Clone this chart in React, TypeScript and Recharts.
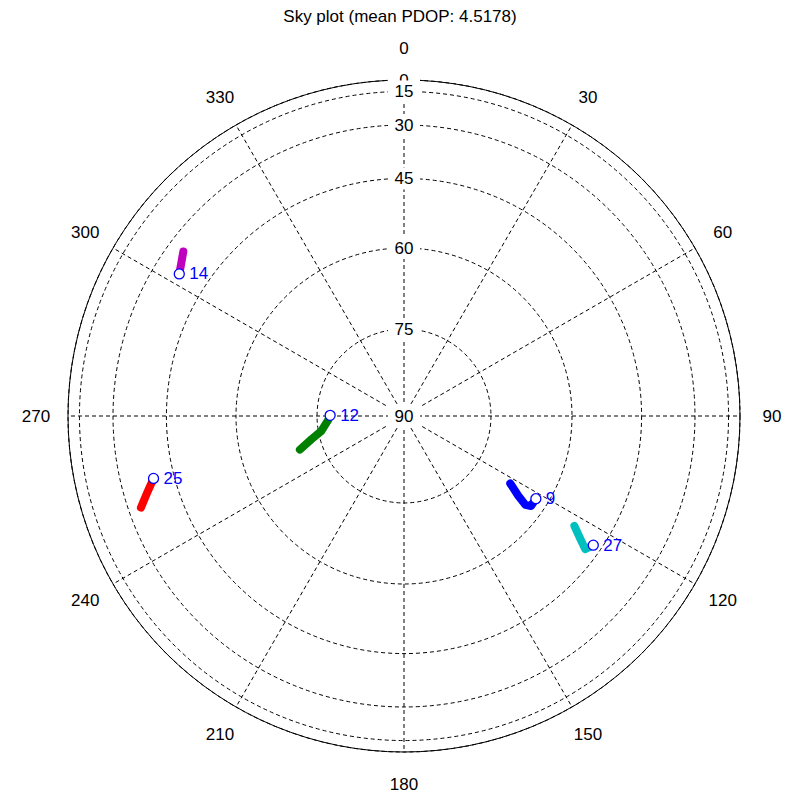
import React from 'react';
import { RadarChart, Radar, PolarGrid, PolarAngleAxis, PolarRadiusAxis } from 'recharts';

// azimuth labels round the rim, elevation rings (deg)
const AZIMUTH_TICKS = [0, 30, 60, 90, 120, 150, 180, 210, 240, 270, 300, 330];
const ELEVATION_TICKS = [0, 15, 30, 45, 60, 75, 90];

// satellite tracks, first point is the current position (blue circle)
const PRN = [14, 25, 12, 9, 27];
const COLORS = ['#bf00bf', '#ff0000', '#008000', '#0000ff', '#00bfbf'];

const AZ_14 = [302.3, 304.6, 306.7];
const EL_14 = [37.7, 36.4, 35.0];
const AZ_25 = [256.0, 253.2, 250.8];
const EL_25 = [39.8, 36.9, 34.0];
const AZ_12 = [270.5, 266.7, 259.6, 255.9, 252.1];
const EL_12 = [77.3, 76.9, 75.5, 73.5, 71.0];
const AZ_9 = [122.1, 125.3, 126.2, 124.9, 122.4];
const EL_9 = [62.4, 62.4, 63.4, 65.5, 68.0];
const AZ_27 = [124.3, 126.3, 124.9, 122.8];
const EL_27 = [47.0, 48.0, 50.2, 52.9];

const TRACKS = [
  { prn: 14, az: AZ_14, el: EL_14 },
  { prn: 25, az: AZ_25, el: EL_25 },
  { prn: 12, az: AZ_12, el: EL_12 },
  { prn: 9, az: AZ_9, el: EL_9 },
  { prn: 27, az: AZ_27, el: EL_27 },
];

const rows = TRACKS.flatMap((t) => t.az.map((az, i) => ({ prn: t.prn, az, el: t.el[i] })));

// sky plot radius is cos(elevation)
const toR = (el: number) => Math.cos((el * Math.PI) / 180);
const radiusTicks = ELEVATION_TICKS.map(toR);

const FONT = 17;

const AngleTick = (props: any) => {
  const { x, y, payload } = props;
  return (
    <text x={x} y={y} textAnchor="middle" dominantBaseline="central" fontSize={FONT} fill="#000">
      {payload.value}
    </text>
  );
};

const RadiusTick = (props: any) => {
  const { x, y, payload } = props;
  const label = Math.round((Math.acos(Math.min(1, payload.value)) * 180) / Math.PI);
  return (
    <g>
      <rect x={x - 16} y={y - 11} width={32} height={22} fill="#fff" />
      <text x={x} y={y} textAnchor="middle" dominantBaseline="central" fontSize={FONT} fill="#000">
        {label}
      </text>
    </g>
  );
};

const trackShape = (prn: number, color: string) => (props: any) => {
  const pts = (props.points || []).filter(
    (p: any) => p.payload && p.payload.prn === prn && Number.isFinite(p.x) && Number.isFinite(p.y)
  );
  if (!pts.length) return <g />;
  const d = pts.map((p: any, i: number) => `${i ? 'L' : 'M'}${p.x},${p.y}`).join('');
  const m = pts[0];
  return (
    <g>
      <path d={d} fill="none" stroke={color} strokeWidth={8} strokeLinecap="round" strokeLinejoin="round" />
      <circle cx={m.x} cy={m.y} r={5} fill="#fff" stroke="#0000ff" strokeWidth={1.3} />
      <text x={m.x + 10} y={m.y} dominantBaseline="central" fill="#0000ff" fontSize={FONT}>
        {prn}
      </text>
    </g>
  );
};

export default function App() {
  return (
    <div style={{ position: 'absolute', left: 0, top: 0, width: 792, height: 792, background: '#fff', fontFamily: '"Liberation Sans", Arial, sans-serif' }}>
      <div style={{ position: 'absolute', left: 0, width: 800, top: 6, textAlign: 'center', fontSize: FONT, color: '#000', lineHeight: '22px' }}>
        Sky plot (mean PDOP: 4.5178)
      </div>
      <RadarChart
        width={792}
        height={792}
        data={rows}
        cx={404}
        cy={416}
        outerRadius={336}
        startAngle={90}
        endAngle={-270}
        margin={{ top: 0, right: 0, bottom: 0, left: 0 }}
      >
        <PolarGrid gridType="circle" stroke="#000" strokeDasharray="4 3" strokeWidth={1} />
        <PolarAngleAxis
          dataKey="az"
          type="number"
          domain={[0, 360]}
          ticks={AZIMUTH_TICKS}
          tick={AngleTick}
          tickLine={false}
          tickSize={32}
          axisLineType="circle"
          stroke="#000"
        />
        <PolarRadiusAxis
          type="number"
          domain={[0, 1]}
          ticks={radiusTicks}
          angle={90}
          orientation="middle"
          axisLine={false}
          tick={RadiusTick}
        />
        {PRN.map((p, i) => (
          <Radar
            key={p}
            dataKey={(row: any) => (row.prn === p ? toR(row.el) : null)}
            stroke={COLORS[i]}
            fill="none"
            dot={false}
            isAnimationActive={false}
            shape={trackShape(p, COLORS[i])}
          />
        ))}
      </RadarChart>
    </div>
  );
}
